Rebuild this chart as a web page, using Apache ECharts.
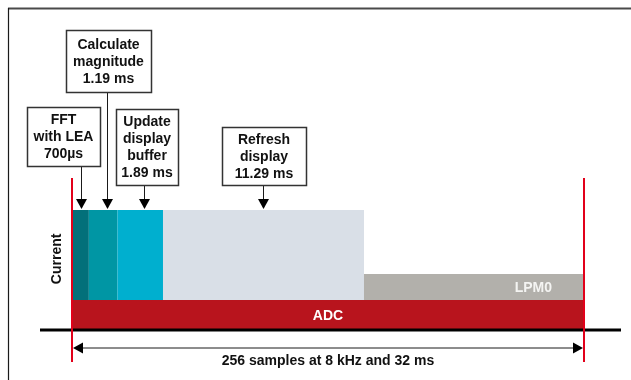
<!DOCTYPE html>
<html>
<head>
<meta charset="utf-8">
<script src="https://cdn.jsdelivr.net/npm/echarts@6/dist/echarts.min.js"></script>
<style>
  html, body { margin: 0; padding: 0; background: #ffffff; }
  #chart { width: 631px; height: 380px; }
</style>
</head>
<body>
<div id="chart"></div>
<script>
// Processing phases inside one 32 ms acquisition window
const phaseNames = ['FFT\nwith LEA', 'Calculate\nmagnitude', 'Update\ndisplay\nbuffer', 'Refresh\ndisplay'];
const phaseDurationLabels = ['700\u00b5s', '1.19 ms', '1.89 ms', '11.29 ms'];
const phaseDurationsMs = [0.7, 1.19, 1.89, 11.29];
const windowMs = 32;
const windowCaption = '256 samples at 8 kHz and 32 ms';

// Relative current levels (arbitrary units)
const adcCurrent = 1;
const lpm0Current = 0.87;
const activeCurrent = 3;
const adcLabel = 'ADC';
const lpm0Label = 'LPM0';
const yAxisTitle = 'Current';

// ---- styling / layout ----
const FONT = '"Liberation Sans", Arial, Helvetica, sans-serif';
const phaseColors = ['#03707A', '#0096A4', '#00AFCF', '#D9DFE7'];
const lpm0Color = '#B2B0AB';
const adcColor = '#B8141D';
const markerRed = '#E2001A';
// callout boxes: box offset from the arrow, gap above the bars, size
const calloutLayout = [
  { arrowDx: 0.5, left: -55, rise: 44, width: 73, height: 59 },
  { arrowDx: 4, left: -42, rise: 118, width: 85, height: 62 },
  { arrowDx: 4, left: -29, rise: 25, width: 62, height: 76 },
  { arrowDx: 0, left: -42, rise: 25, width: 84, height: 58 }
];

// Build band rectangles: [start, end, base, top]
const phaseStarts = [];
let t = 0;
phaseDurationsMs.forEach(d => { phaseStarts.push(t); t += d; });
const activeEnd = t;
const activeBase = adcCurrent;
const activeTop = adcCurrent + activeCurrent;

const bandData = [];
phaseDurationsMs.forEach((d, i) => {
  bandData.push({ value: [phaseStarts[i], phaseStarts[i] + d, activeBase, activeTop, -1], itemStyle: { color: phaseColors[i] } });
});
bandData.push({ value: [activeEnd, windowMs, adcCurrent, adcCurrent + lpm0Current, 1], itemStyle: { color: lpm0Color } });
bandData.push({ value: [0, windowMs, 0, adcCurrent, 0], itemStyle: { color: adcColor } });
const bandLabels = [adcLabel, lpm0Label];

const calloutData = phaseDurationsMs.map((d, i) => [phaseStarts[i], phaseStarts[i] + d, activeTop, i]);

const chart = echarts.init(document.getElementById('chart'), null, { renderer: 'canvas' });

const option = {
  animation: false,
  backgroundColor: '#ffffff',
  grid: { left: 72, right: 47, top: 210, bottom: 50 },
  xAxis: {
    type: 'value', min: 0, max: windowMs, show: false,
    // idle stretches are drawn compressed so the short phases stay readable
    breaks: [
      { start: 6, end: 8.94, gap: 0 },
      { start: 18, end: 25.79, gap: 0 }
    ],
    breakArea: { show: false }
  },
  yAxis: { type: 'value', min: 0, max: 4, show: false },
  graphic: [
    { type: 'line', shape: { x1: 8, y1: 8.5, x2: 631, y2: 8.5 }, style: { stroke: '#4a4a4a', lineWidth: 2 }, silent: true },
    { type: 'line', shape: { x1: 8.5, y1: 8, x2: 8.5, y2: 380 }, style: { stroke: '#1a1a1a', lineWidth: 1.2 }, silent: true }
  ],
  series: [
    {
      type: 'custom',
      name: 'bands',
      data: bandData,
      clip: false,
      renderItem: function (params, api) {
        const p0 = api.coord([api.value(0), api.value(3)]);
        const p1 = api.coord([api.value(1), api.value(2)]);
        const children = [{
          type: 'rect',
          shape: { x: p0[0], y: p0[1], width: p1[0] - p0[0], height: p1[1] - p0[1] },
          style: { fill: api.visual('color') }
        }];
        const li = api.value(4);
        if (li === 0) {
          children.push({
            type: 'text',
            style: { text: bandLabels[0], x: (p0[0] + p1[0]) / 2, y: (p0[1] + p1[1]) / 2 + 1, align: 'center', verticalAlign: 'middle', fill: '#ffffff', font: 'bold 14px ' + FONT }
          });
        } else if (li === 1) {
          children.push({
            type: 'text',
            style: { text: bandLabels[1], x: p1[0] - 32, y: (p0[1] + p1[1]) / 2 + 1, align: 'right', verticalAlign: 'middle', fill: '#F4F4F2', font: 'bold 14px ' + FONT }
          });
        }
        return { type: 'group', children: children };
      }
    },
    {
      type: 'custom',
      name: 'window',
      data: [[0, windowMs]],
      clip: false,
      renderItem: function (params, api) {
        const xa = api.coord([api.value(0), 0]);
        const xb = api.coord([api.value(1), 0]);
        const baseY = xa[1];
        const arrowY = baseY + 18;
        const markTop = api.coord([0, activeTop])[1] - 32;
        const markBottom = baseY + 32;
        const x0 = Math.round(xa[0]);
        const x1 = Math.round(xb[0]);
        return {
          type: 'group',
          children: [
            // time axis
            { type: 'line', shape: { x1: 40, y1: baseY, x2: x1 + 37, y2: baseY }, style: { stroke: '#000000', lineWidth: 3 } },
            // window span with arrowheads
            { type: 'line', shape: { x1: x0 + 6, y1: arrowY, x2: x1 - 6, y2: arrowY }, style: { stroke: '#1a1a1a', lineWidth: 1 } },
            { type: 'polygon', shape: { points: [[x0 + 1, arrowY], [x0 + 11, arrowY - 5.5], [x0 + 11, arrowY + 5.5]] }, style: { fill: '#000000' } },
            { type: 'polygon', shape: { points: [[x1 - 1, arrowY], [x1 - 11, arrowY - 5.5], [x1 - 11, arrowY + 5.5]] }, style: { fill: '#000000' } },
            { type: 'text', style: { text: windowCaption, x: (x0 + x1) / 2 + 0, y: arrowY + 13, align: 'center', verticalAlign: 'middle', fill: '#111111', font: 'bold 14px ' + FONT } },
            // window boundaries
            { type: 'line', shape: { x1: x0, y1: markTop, x2: x0, y2: markBottom }, style: { stroke: markerRed, lineWidth: 2 } },
            { type: 'line', shape: { x1: x1, y1: markTop, x2: x1, y2: markBottom }, style: { stroke: markerRed, lineWidth: 2 } },
            // vertical axis title
            { type: 'text', rotation: Math.PI / 2, x: x0 - 14.5, y: api.coord([0, 2.37])[1], style: { text: yAxisTitle, x: 0, y: 0, align: 'center', verticalAlign: 'middle', fill: '#111111', font: 'bold 14px ' + FONT } }
          ]
        };
      }
    },
    {
      type: 'custom',
      name: 'callouts',
      data: calloutData,
      clip: false,
      z: 5,
      renderItem: function (params, api) {
        const i = api.value(3);
        const lay = calloutLayout[i];
        const a = api.coord([api.value(0), api.value(2)]);
        const b = api.coord([api.value(1), api.value(2)]);
        const ax = Math.round((a[0] + b[0]) / 2 + lay.arrowDx) + 0.5;
        const tipY = a[1] - 1;
        const headY = tipY - 10;
        const boxBottom = a[1] - lay.rise;
        const boxTop = boxBottom - lay.height;
        const boxLeft = ax + lay.left;
        return {
          type: 'group',
          children: [
            { type: 'line', shape: { x1: ax, y1: boxBottom, x2: ax, y2: headY + 1 }, style: { stroke: '#1a1a1a', lineWidth: 1 } },
            { type: 'polygon', shape: { points: [[ax, tipY], [ax - 5.5, headY], [ax + 5.5, headY]] }, style: { fill: '#000000' } },
            { type: 'rect', shape: { x: Math.round(boxLeft) + 0.5, y: Math.round(boxTop) + 0.5, width: lay.width, height: lay.height }, style: { fill: '#ffffff', stroke: '#333333', lineWidth: 1.5 } },
            { type: 'text', style: { text: phaseNames[i] + '\n' + phaseDurationLabels[i], x: boxLeft + lay.width / 2 + 0.5, y: boxTop + lay.height / 2 + 1, align: 'center', verticalAlign: 'middle', lineHeight: 17, fill: '#111111', font: 'bold 14px ' + FONT } }
          ]
        };
      }
    }
  ]
};

chart.setOption(option);
</script>
</body>
</html>
